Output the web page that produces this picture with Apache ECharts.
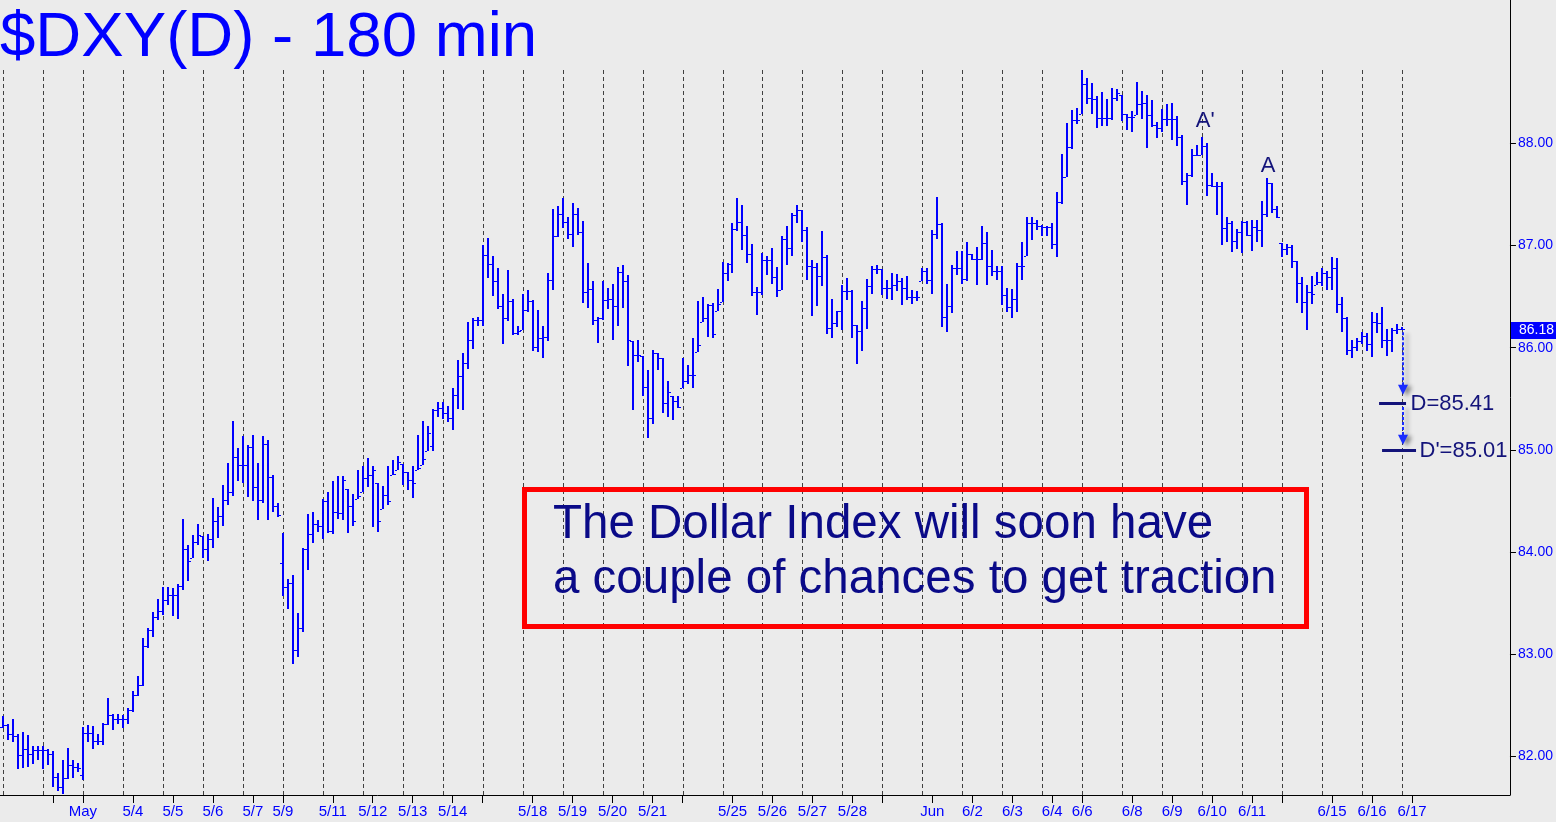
<!DOCTYPE html>
<html>
<head>
<meta charset="utf-8">
<script src="https://cdn.jsdelivr.net/npm/echarts@6/dist/echarts.min.js"></script>
<style>
html,body{margin:0;padding:0;background:#ebebeb;}
#c{width:1556px;height:822px;}
</style>
</head>
<body>
<div id="c"></div>
<script>
// ---------------- DATA ----------------
const opens = [
82.29,82.31,82.22,82.20,82.01,82.07,82.02,82.06,82.06,82.06,
82.02,81.80,81.70,81.79,81.92,81.90,81.82,82.23,82.23,82.15,
82.15,82.32,82.41,82.37,82.37,82.37,82.45,82.60,82.70,83.08,
83.24,83.36,83.42,83.53,83.58,83.58,83.67,84.03,83.94,84.10,
84.16,84.03,84.13,84.30,84.35,84.51,84.59,84.93,84.85,84.85,
85.03,84.64,84.51,85.06,84.73,84.45,83.89,83.66,83.70,83.04,
83.26,84.03,84.18,84.27,84.26,84.50,84.21,84.39,84.38,84.62,
84.45,84.52,84.59,84.72,84.75,84.68,84.42,84.56,84.75,84.80,
84.86,84.78,84.71,84.80,84.85,84.99,85.04,85.39,85.41,85.36,
85.31,85.54,85.72,85.85,86.08,86.27,86.27,86.91,86.82,86.65,
86.41,86.29,86.46,86.14,86.17,86.37,86.46,86.01,86.09,86.10,
86.66,87.09,87.31,87.23,87.11,87.31,87.13,86.54,86.57,86.27,
86.29,86.47,86.48,86.41,86.74,86.65,86.07,85.93,85.92,85.62,
85.31,85.95,85.90,85.46,85.53,85.48,85.61,85.67,85.73,85.96,
86.25,86.29,86.42,86.36,86.45,86.73,86.82,87.16,87.23,87.10,
86.92,86.54,86.54,86.86,86.86,86.69,86.56,87.06,86.98,87.30,
87.35,87.15,86.80,86.79,86.70,86.89,86.19,86.24,86.36,86.55,
86.55,86.22,86.16,86.39,86.60,86.77,86.77,86.58,86.58,86.61,
86.65,86.58,86.50,86.50,86.65,86.75,86.66,87.11,87.21,86.30,
86.41,86.78,86.78,86.67,86.92,86.87,86.87,87.02,86.80,86.75,
86.75,86.52,86.40,86.48,86.80,86.90,87.22,87.22,87.19,87.18,
87.18,87.01,87.43,87.67,87.96,88.23,88.29,88.58,88.44,88.43,
88.25,88.25,88.25,88.44,88.47,88.29,88.26,88.28,88.38,88.39,
88.28,88.18,88.15,88.24,88.24,88.24,88.06,87.63,87.69,87.89,
87.89,87.97,87.59,87.58,87.58,87.17,87.22,87.04,87.13,87.23,
87.10,87.18,87.15,87.31,87.61,87.36,87.02,86.97,86.99,86.85,
86.63,86.45,86.54,86.61,86.64,86.73,86.69,86.78,86.43,86.29,
85.98,86.01,86.07,86.11,86.04,86.25,86.24,86.08,86.08,86.17,
86.18
];
const highs = [
82.40,82.32,82.37,82.22,82.24,82.21,82.10,82.10,82.10,82.07,
82.05,81.84,81.97,82.08,81.97,81.94,82.29,82.31,82.30,82.22,
82.33,82.57,82.42,82.42,82.41,82.47,82.64,82.79,83.16,83.26,
83.41,83.54,83.66,83.66,83.65,83.69,84.32,84.07,84.17,84.27,
84.16,84.18,84.53,84.44,84.66,84.87,85.28,85.02,85.14,85.05,
85.15,84.87,85.14,85.10,84.75,84.48,84.19,83.74,83.78,83.40,
84.04,84.37,84.39,84.31,84.52,84.59,84.70,84.74,84.74,84.62,
84.57,84.80,84.84,84.92,84.84,84.68,84.65,84.84,84.90,84.94,
84.86,84.78,84.84,85.15,85.28,85.23,85.40,85.47,85.47,85.43,
85.61,85.88,85.95,86.25,86.29,86.30,87.00,87.07,86.90,86.78,
86.53,86.76,86.48,86.21,86.53,86.56,86.47,86.37,86.21,86.73,
87.36,87.39,87.46,87.28,87.42,87.37,87.24,86.83,86.65,86.30,
86.65,86.58,86.62,86.79,86.81,86.71,86.07,86.08,85.92,85.78,
85.98,85.95,85.90,85.67,85.53,85.53,85.90,85.83,86.09,86.46,
86.50,86.43,86.44,86.57,86.84,86.83,87.22,87.46,87.40,87.19,
87.01,86.59,86.93,86.90,86.98,86.79,87.09,87.19,87.32,87.40,
87.35,87.18,86.86,86.83,87.14,86.91,86.48,86.36,86.61,86.68,
86.56,86.22,86.46,86.67,86.80,86.81,86.77,86.66,86.73,86.72,
86.68,86.70,86.56,86.55,86.78,86.78,87.15,87.47,87.22,86.62,
86.81,86.95,86.95,87.03,86.92,86.99,87.19,87.13,86.96,86.80,
86.80,86.58,86.57,86.83,87.03,87.28,87.28,87.25,87.20,87.19,
87.22,87.52,87.90,88.20,88.33,88.35,88.72,88.64,88.59,88.46,
88.50,88.43,88.54,88.53,88.47,88.29,88.32,88.60,88.51,88.47,
88.42,88.21,88.34,88.38,88.39,88.27,88.08,87.71,87.94,87.98,
88.06,88.00,87.71,87.62,87.62,87.28,87.24,87.16,87.24,87.24,
87.25,87.25,87.44,87.66,87.61,87.39,87.02,87.01,87.00,86.85,
86.69,86.61,86.70,86.74,86.78,86.75,86.89,86.88,86.50,86.30,
86.08,86.09,86.15,86.14,86.35,86.34,86.40,86.18,86.19,86.23,
86.20
];
const lows = [
82.28,82.16,82.14,81.88,81.89,81.90,81.93,81.97,81.88,81.92,
81.70,81.66,81.63,81.78,81.79,81.85,81.77,82.14,82.07,82.11,
82.11,82.31,82.26,82.32,82.28,82.32,82.44,82.59,82.69,83.06,
83.17,83.34,83.38,83.48,83.37,83.35,83.63,83.72,83.94,84.07,
83.94,83.91,84.04,84.14,84.26,84.46,84.55,84.70,84.68,84.54,
84.50,84.31,84.48,84.31,84.39,84.34,83.57,83.44,82.90,82.97,
83.22,83.82,84.09,84.20,84.13,84.19,84.18,84.32,84.31,84.19,
84.26,84.52,84.59,84.64,84.25,84.20,84.42,84.46,84.75,84.80,
84.66,84.61,84.53,84.80,84.85,84.99,84.99,85.32,85.30,85.27,
85.19,85.40,85.39,85.79,85.99,86.21,86.21,86.68,86.51,86.38,
86.04,86.26,86.12,86.12,86.17,86.35,85.97,85.96,85.90,86.07,
86.56,87.08,87.17,87.06,86.99,87.10,86.44,86.39,86.22,86.05,
86.27,86.38,86.08,86.21,86.39,85.82,85.39,85.86,85.53,85.12,
85.25,85.78,85.36,85.32,85.29,85.41,85.61,85.64,85.61,85.96,
86.25,86.10,86.09,86.36,86.45,86.65,86.73,87.14,86.96,86.83,
86.51,86.32,86.52,86.71,86.62,86.50,86.56,86.81,86.90,87.22,
87.03,86.66,86.31,86.41,86.60,86.13,86.09,86.20,86.17,86.47,
86.09,85.84,85.97,86.18,86.53,86.72,86.52,86.48,86.47,86.55,
86.42,86.47,86.43,86.46,86.65,86.62,86.53,87.06,86.20,86.15,
86.34,86.71,86.62,86.65,86.86,86.61,86.86,86.61,86.70,86.66,
86.42,86.35,86.29,86.35,86.66,86.90,87.05,87.15,87.09,87.09,
86.97,86.89,87.41,87.67,87.94,88.19,88.29,88.38,88.29,88.15,
88.17,88.17,88.23,88.41,88.22,88.13,88.11,88.28,88.24,87.95,
88.16,88.05,88.11,88.17,88.03,87.97,87.59,87.40,87.67,87.88,
87.89,87.48,87.57,87.30,87.00,87.03,86.94,86.97,86.93,87.09,
86.95,87.03,86.99,87.28,87.32,87.27,86.89,86.91,86.78,86.44,
86.34,86.17,86.43,86.61,86.60,86.56,86.56,86.34,86.15,85.93,
85.90,85.97,86.04,85.97,85.91,86.14,86.00,85.92,85.96,86.13,
86.17
];
const closes = [
82.31,82.22,82.20,82.01,82.07,82.02,82.06,82.06,82.06,82.02,
81.80,81.70,81.79,81.92,81.90,81.89,82.23,82.23,82.15,82.15,
82.32,82.41,82.37,82.37,82.37,82.45,82.60,82.70,83.08,83.24,
83.36,83.42,83.53,83.58,83.58,83.67,84.03,83.91,84.10,84.17,
84.03,84.13,84.30,84.35,84.51,84.59,84.93,84.85,84.85,85.03,
84.64,84.51,85.06,84.73,84.45,84.36,83.66,83.70,83.04,83.26,
84.03,84.18,84.27,84.26,84.50,84.21,84.39,84.38,84.71,84.45,
84.30,84.55,84.72,84.75,84.80,84.30,84.56,84.50,84.76,84.88,
84.78,84.71,84.68,84.82,84.91,85.17,85.39,85.41,85.36,85.31,
85.54,85.72,85.85,86.08,86.27,86.27,86.91,86.82,86.65,86.41,
86.29,86.46,86.14,86.16,86.37,86.46,86.01,86.09,86.10,86.66,
87.09,87.31,87.23,87.11,87.31,87.13,86.54,86.57,86.27,86.29,
86.47,86.48,86.41,86.74,86.65,86.08,85.93,85.93,85.62,85.31,
85.95,85.90,85.46,85.57,85.48,85.42,85.67,85.73,85.73,86.03,
86.29,86.42,86.13,86.43,86.73,86.82,87.16,87.23,87.10,86.92,
86.54,86.54,86.86,86.86,86.69,86.56,87.06,86.98,87.30,87.35,
87.15,86.80,86.79,86.70,86.89,86.19,86.24,86.36,86.55,86.55,
86.22,86.16,86.39,86.60,86.77,86.77,86.58,86.58,86.61,86.65,
86.58,86.50,86.50,86.50,86.75,86.66,87.11,87.21,86.30,86.41,
86.78,86.78,86.67,86.92,86.87,86.87,87.02,86.80,86.75,86.75,
86.52,86.40,86.48,86.80,86.80,87.22,87.22,87.19,87.18,87.18,
87.01,87.43,87.67,87.96,88.23,88.23,88.58,88.44,88.43,88.25,
88.25,88.25,88.44,88.49,88.29,88.26,88.26,88.38,88.39,88.28,
88.18,88.15,88.24,88.24,88.24,88.06,87.63,87.69,87.89,87.89,
87.97,87.59,87.58,87.58,87.17,87.22,87.04,87.13,87.23,87.10,
87.18,87.15,87.31,87.61,87.36,87.28,86.97,86.99,86.85,86.63,
86.45,86.54,86.53,86.64,86.73,86.69,86.78,86.43,86.29,85.98,
86.01,86.07,86.11,86.04,86.25,86.24,86.08,86.08,86.17,86.18,
86.18
];
// session separators (bar index of each dashed line)
const sessionBreaks = [0,8,16,24,32,40,48,56,64,72,80,88,96,104,112,120,128,136,144,152,160,168,176,184,192,200,208,216,224,232,240,248,256,264,272,280];
// x-axis labels (bar index) and texts
const xLabelIdx  = [16,26,34,42,50,56,66,74,82,90,106,114,122,130,146,154,162,170,186,194,202,210,216,226,234,242,250,266,274,282];
const xLabelText = ['May','5/4','5/5','5/6','5/7','5/9','5/11','5/12','5/13','5/14','5/18','5/19','5/20','5/21','5/25','5/26','5/27','5/28','Jun','6/2','6/3','6/4','6/6','6/8','6/9','6/10','6/11','6/15','6/16','6/17'];
const xExtraTickIdx = [10,96,136,176,256];
// y-axis ticks
const yTickValues = [82,83,84,85,86,87,88];
// last price
const lastPrice = 86.18;
// peak labels
const peakLabels = ["A'", "A"];
const peakX = [240.6, 253.2];
const peakY = [88.22, 87.78];
// targets
const targetLabels = ["D=85.41", "D'=85.01"];
const targetLevels = [85.46, 85.00];
const targetFrom = [275.4, 276.0];
const targetTo = [280.8, 282.8];
const targetTextX = [281.7, 283.5];
// projection arrows
const arrowX = [280.26, 280.26];
const arrowFrom = [86.15, 85.42];
const arrowTo = [85.54, 85.05];
// texts
const titleText = '$DXY(D) - 180 min';
const noteLines = ['The Dollar Index will soon have', 'a couple of chances to get traction'];

// ---------------- CHART ----------------
const X_MIN = -0.6, X_MAX = 301.6;
const Y_MIN = 81.623, Y_MAX = 89.402;
const SEP_TOP = 88.72;
const FONT = '"Liberation Sans", Arial, Helvetica, sans-serif';
const BLUE = '#0000ff';
const NAVY = '#13137a';

const ohlc = closes.map((c, i) => [i, opens[i], highs[i], lows[i], c]);
const xTickIdx = xLabelIdx.concat(xExtraTickIdx).sort((a, b) => a - b);
const labelMap = {};
xLabelIdx.forEach((k, i) => { labelMap[k] = xLabelText[i]; });

function renderSep(params, api) {
  const p1 = api.coord([api.value(0), SEP_TOP]);
  const p2 = api.coord([api.value(0), Y_MIN]);
  const x = Math.round(p1[0]) + 0.5;
  return { type: 'line', shape: { x1: x, y1: Math.round(p1[1]), x2: x, y2: Math.round(p2[1]) },
    style: { stroke: '#404040', lineWidth: 1, lineDash: [4, 3] } };
}

function renderBar(params, api) {
  const k = api.value(0);
  const pO = api.coord([k, api.value(1)]);
  const pH = api.coord([k, api.value(2)]);
  const pL = api.coord([k, api.value(3)]);
  const pC = api.coord([k, api.value(4)]);
  const x = Math.round(pH[0]);
  const yH = Math.round(pH[1]), yL = Math.round(pL[1]);
  return { type: 'group', children: [
    { type: 'rect', shape: { x: x - 1, y: yH, width: 2, height: Math.max(2, yL - yH) }, style: { fill: BLUE } },
    { type: 'rect', shape: { x: x - 3, y: Math.round(pO[1]), width: 2, height: 1 }, style: { fill: BLUE } },
    { type: 'rect', shape: { x: x + 1, y: Math.round(pC[1]), width: 2, height: 1 }, style: { fill: BLUE } }
  ] };
}

function txt(text, x, y, size, color, align) {
  return { type: 'text', style: { text: text, x: x, y: y, fill: color,
    font: size + 'px ' + FONT, fontSize: size, fontFamily: FONT,
    align: align || 'left', textAlign: align || 'left',
    verticalAlign: 'middle', textVerticalAlign: 'middle' } };
}

function renderPeak(params, api) {
  const p = api.coord([api.value(0), api.value(1)]);
  return txt(peakLabels[params.dataIndex], p[0], p[1], 22, NAVY, 'center');
}

function renderTarget(params, api) {
  const i = params.dataIndex;
  const p1 = api.coord([api.value(0), api.value(2)]);
  const p2 = api.coord([api.value(1), api.value(2)]);
  const pt = api.coord([api.value(3), api.value(2)]);
  const y = Math.round(p1[1]) + 0.5;
  return { type: 'group', children: [
    { type: 'line', shape: { x1: p1[0], y1: y, x2: p2[0], y2: y }, style: { stroke: NAVY, lineWidth: 3 } },
    txt(targetLabels[i], pt[0], p1[1] + 1, 22, NAVY, 'left')
  ] };
}

function renderArrow(params, api) {
  const p1 = api.coord([api.value(0), api.value(1)]);
  const p2 = api.coord([api.value(0), api.value(2)]);
  const x = Math.round(p1[0]);
  const shadow = { shadowBlur: 4, shadowColor: 'rgba(0,0,0,0.45)', shadowOffsetX: 4, shadowOffsetY: 2 };
  return { type: 'group', children: [
    { type: 'line', shape: { x1: x, y1: p1[1], x2: x, y2: p2[1] - 8 },
      style: Object.assign({ stroke: '#1a2cff', lineWidth: 2, lineDash: [3, 2] }, shadow) },
    { type: 'polygon', shape: { points: [[x - 5, p2[1] - 10], [x + 5, p2[1] - 10], [x, p2[1]]] },
      style: Object.assign({ fill: '#1a2cff' }, shadow) }
  ] };
}

function renderLast(params, api) {
  const p = api.coord([X_MAX, api.value(1)]);
  const x0 = Math.round(p[0]) + 1;
  const w = api.getWidth() - x0;
  return { type: 'group', children: [
    { type: 'rect', shape: { x: x0, y: Math.round(p[1]) - 7, width: w, height: 17 }, style: { fill: BLUE } },
    txt(api.value(1).toFixed(2), x0 + 8, Math.round(p[1]) + 1.5, 14, '#ffffff', 'left')
  ] };
}

const chart = echarts.init(document.getElementById('c'), null, { renderer: 'canvas' });
const option = {
  backgroundColor: '#ebebeb',
  animation: false,
  grid: { left: 0, right: 45, top: 0, bottom: 27, containLabel: false },
  xAxis: {
    type: 'value', min: X_MIN, max: X_MAX,
    splitLine: { show: false },
    axisLine: { show: true, onZero: false, lineStyle: { color: '#000', width: 1 } },
    axisTick: { show: true, length: 8, customValues: xTickIdx, lineStyle: { color: '#000', width: 1 } },
    axisLabel: { show: true, customValues: xLabelIdx, formatter: v => labelMap[v] || '',
      color: BLUE, fontFamily: FONT, fontSize: 15, margin: 9 }
  },
  yAxis: {
    type: 'value', position: 'right', min: Y_MIN, max: Y_MAX,
    splitLine: { show: false },
    axisLine: { show: true, onZero: false, lineStyle: { color: '#000', width: 1 } },
    axisTick: { show: true, length: 6, customValues: yTickValues, lineStyle: { color: '#000', width: 1 } },
    axisLabel: { show: true, customValues: yTickValues, formatter: v => Number(v).toFixed(2),
      color: BLUE, fontFamily: FONT, fontSize: 14, margin: 8, align: 'left' }
  },
  graphic: [
    { type: 'text', z: 100, style: { text: titleText, x: 0, y: 38, fill: BLUE,
      font: '63.6px ' + FONT, align: 'left', textAlign: 'left', verticalAlign: 'middle', textVerticalAlign: 'middle' } },
    { type: 'rect', z: 100, shape: { x: 524.5, y: 489.5, width: 782, height: 137 },
      style: { fill: 'none', stroke: '#ff0000', lineWidth: 5 } },
    { type: 'text', z: 100, style: { text: noteLines[0], x: 553, y: 525, fill: '#0a0a88',
      font: '47.5px ' + FONT, align: 'left', textAlign: 'left', verticalAlign: 'middle', textVerticalAlign: 'middle' } },
    { type: 'text', z: 100, style: { text: noteLines[1], x: 553, y: 580, fill: '#0a0a88',
      font: '47.5px ' + FONT, align: 'left', textAlign: 'left', verticalAlign: 'middle', textVerticalAlign: 'middle' } }
  ],
  series: [
    { type: 'custom', name: 'sessions', renderItem: renderSep, silent: true, z: 1,
      data: sessionBreaks.map(k => [k, Y_MIN]), encode: { x: 0, y: 1 } },
    { type: 'custom', name: 'DXY', renderItem: renderBar, z: 3,
      data: ohlc, encode: { x: 0, y: [2, 3] } },
    { type: 'custom', name: 'peaks', renderItem: renderPeak, z: 4, clip: false,
      data: peakX.map((x, i) => [x, peakY[i]]), encode: { x: 0, y: 1 } },
    { type: 'custom', name: 'targets', renderItem: renderTarget, z: 4, clip: false,
      data: targetLevels.map((v, i) => [targetFrom[i], targetTo[i], v, targetTextX[i]]), encode: { x: [0, 1], y: 2 } },
    { type: 'custom', name: 'arrows', renderItem: renderArrow, z: 5, clip: false,
      data: arrowX.map((x, i) => [x, arrowFrom[i], arrowTo[i]]), encode: { x: 0, y: [1, 2] } },
    { type: 'custom', name: 'last', renderItem: renderLast, z: 6, clip: false,
      data: [[closes.length - 1, lastPrice]], encode: { x: 0, y: 1 } }
  ]
};
chart.setOption(option);
</script>
</body>
</html>
